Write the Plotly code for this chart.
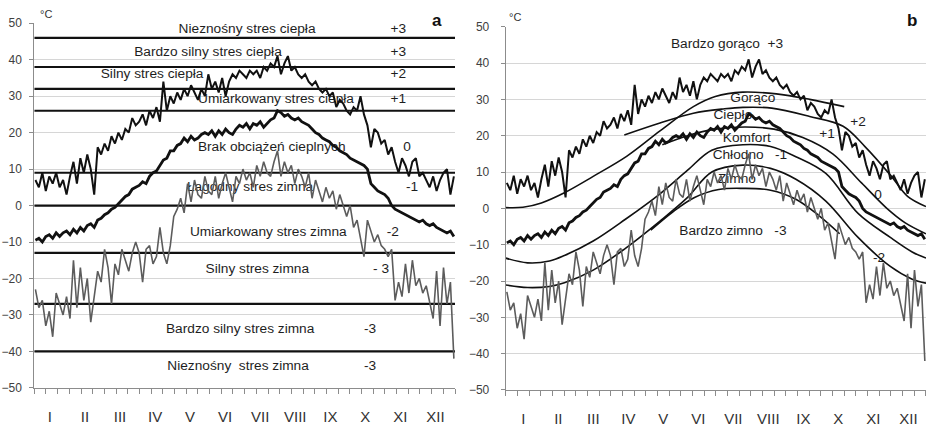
import plotly.graph_objects as go

# ---------------- data ----------------
months = ["I", "II", "III", "IV", "V", "VI", "VII", "VIII", "IX", "X", "XI", "XII"]
days = list(range(1, 366, 3))  # sampling days of the year

tmax = [7, 5, 9, 4, 8, 6, 9, 5, 7, 3,
        8, 12, 6, 13, 9, 14, 10, 3, 16, 14,
        17, 15, 19, 17, 20, 18, 21, 20, 24, 22,
        23, 25, 22, 26, 24, 27, 23, 34, 26, 30,
        28, 31, 29, 32, 30, 33, 31, 29, 32, 30,
        36, 32, 34, 31, 35, 30, 34, 36, 35, 37,
        36, 35, 37, 36, 37, 35, 38, 37, 39, 38,
        41, 36, 39, 41, 37, 38, 36, 35, 36, 34,
        33, 34, 32, 31, 32, 30, 31, 27, 29, 28,
        26, 25, 27, 26, 30, 25, 22, 16, 21, 20,
        17, 18, 14, 16, 12, 9, 13, 11, 8, 12,
        13, 8, 9, 7, 5, 8, 4, 7, 9, 10,
        3, 8]

tmean = [-9.5, -9, -10, -8.5, -8, -9, -7.5, -8.5, -7.5, -7,
         -8, -6.5, -7.5, -6, -7, -5.5, -5, -6, -4, -3.5,
         -2.5, -2, -1, -0.5, 0.5, 1.5, 2.5, 3, 4.5, 5,
         5.5, 6.5, 6, 8, 9, 9.5, 11, 12.5, 13, 15,
         15, 16.5, 17, 18.5, 17.5, 19, 18, 18.5, 19.5, 20,
         19.5, 20.5, 19, 20.5, 19.5, 21, 20, 19.5, 21, 22,
         21.5, 22.5, 21, 22.5, 22, 23, 21.5, 22.5, 23.5, 24,
         26, 25.5, 24.5, 25, 24, 23.5, 24, 23, 22.5, 22,
         21, 20, 19.5, 18.5, 18, 17.5, 16.5, 16, 15, 14.5,
         14, 13, 12.5, 12, 11.5, 11, 10, 6, 5, 4,
         3.5, 3, 2, 0, -1, -1.5, -2, -2.5, -3, -3.5,
         -4, -4.5, -4, -5, -5.5, -5, -6, -6.5, -7, -7.5,
         -7, -8.5]

tmin = [-23, -28, -26, -33, -29, -36, -24, -27, -30, -25,
        -31, -15, -28, -17, -26, -20, -32, -25, -18, -21,
        -12, -17, -27, -16, -19, -12, -15, -18, -13, -10,
        -13, -21, -12, -11, -16, -14, -6, -13, -16, -11,
        -3, -1, 2, -2, 6, 1, 7, 3, 2, 8,
        4, 3, 8, 2, 6, 9, 5, 1, 8, 6,
        10, 7, 9, 5, 11, 8, 12, 9, 8, 12,
        15, 8, 12, 9, 11, 6, 10, 8, 5, 9,
        2, 7, 4, 1, 5, 2, 4, -1, 3, 0,
        -3, 0, -6, -4, -9, -14, -4, -7, -10, -8,
        -11, -12, -14, -12, -26, -21, -25, -16, -24, -15,
        -22, -20, -24, -22, -27, -31, -18, -33, -17, -27,
        -21, -42]

# panel a: fixed thresholds
thresholds_a = [46, 38, 32, 26, 9, 0, -13, -27, -40]

# panel b: seasonal threshold curves (day of year, value)
curveP_day = [0, 15, 31, 51, 76, 105, 134, 163, 182, 206, 235, 264, 294]
curveP_val = [0.2, 0.3, 1.5, 4.3, 8.8, 14.3, 21.3, 28.0, 30.8, 32, 31.5, 30, 28]
curveQ_day = [103, 134, 163, 190, 206, 231, 264, 293, 312, 335, 349, 365]
curveQ_val = [20.2, 23.5, 26.2, 27.4, 27.8, 27.6, 25.3, 22.6, 17, 8.8, 3.3, 0.5]
curveR_day = [136, 158, 182, 208, 233, 258, 284, 309, 331, 347, 365]
curveR_val = [17.5, 20, 21.8, 22.4, 21.8, 19.5, 15, 7, 0, -4, -7]
curveS_day = [0, 19, 38, 51, 76, 104, 134, 158, 179, 206, 230, 252, 278, 306, 334, 353, 365]
curveS_val = [-13.7, -15, -14.5, -13, -9, -3, 4, 10.5, 16, 17.5, 17, 14.2, 9.6, -1.4, -8, -12, -13.7]
curveT_day = [0, 19, 38, 51, 76, 104, 134, 158, 179, 206, 230, 252, 278, 306, 334, 353, 365]
curveT_val = [-21.1, -21.8, -21.5, -20.5, -17, -11, -3.5, 3, 10, 11.9, 11, 8, 2, -8, -16, -19.5, -20.6]
curveU_day = [126, 145, 164, 185, 206, 230, 252, 272, 290]
curveU_val = [-6, -1, 3, 5.2, 5.5, 5, 2.5, -2, -7]

labels_a = ["Nieznośny stres ciepła", "+3", "Bardzo silny stres ciepła", "+3",
            "Silny stres ciepła", "+2", "Umiarkowany stres ciepła", "+1",
            "Brak obciążeń cieplnych", "0", "Łagodny stres zimna", "-1",
            "Umiarkowany stres zimna", "-2", "Silny stres zimna", "- 3",
            "Bardzo silny stres zimna", "-3", "Nieznośny  stres zimna", "-3"]
labels_b = ["Bardzo gorąco  +3", "Gorąco", "Ciepło", "Komfort", "Chłodno   -1",
            "Zimno", "+2", "+1", "0", "Bardzo zimno   -3", "-2"]

# ---------------- layout helpers ----------------
pos_a = [(184.6, 48.2), (315.8, 48.2), (150.7, 42.1), (315.8, 42.1),
         (102.2, 35.8), (315.8, 35.8), (209.7, 29.2), (315.8, 29.2),
         (206.0, 15.8), (323.4, 15.8), (187.2, 4.8), (327.8, 4.8),
         (203.0, -7.3), (311.0, -7.3), (193.5, -17.7), (300.8, -17.7),
         (178.6, -34.1), (291.3, -34.1), (176.8, -44.3), (291.3, -44.3)]
pos_b = [(192.2, 45.0), (214.6, 30.1), (197.3, 25.6), (209.4, 19.3), (212.1, 14.4),
         (200.8, 7.8), (305.9, 23.5), (279.0, 20.2), (323.3, 3.6), (197.3, -6.3),
         (324.3, -13.7)]

FONT = "Liberation Sans"
TXT = "#1e1e1e"
LBL = 13.7
fig = go.Figure()

# text first so lines pass over it
fig.add_trace(go.Scatter(x=[p[0] for p in pos_a], y=[p[1] for p in pos_a], text=labels_a,
                         mode="text", textfont=dict(family=FONT, size=LBL, color=TXT),
                         xaxis="x", yaxis="y", hoverinfo="skip", showlegend=False))
fig.add_trace(go.Scatter(x=[p[0] for p in pos_b], y=[p[1] for p in pos_b], text=labels_b,
                         mode="text", textfont=dict(family=FONT, size=LBL, color=TXT),
                         xaxis="x2", yaxis="y2", hoverinfo="skip", showlegend=False))

# panel a threshold lines
for t in thresholds_a:
    fig.add_trace(go.Scatter(x=[0, 365], y=[t, t], mode="lines",
                             line=dict(color="#111111", width=2.2),
                             xaxis="x", yaxis="y", hoverinfo="skip", showlegend=False))

# panel b curves
for cd, cv in [(curveP_day, curveP_val), (curveQ_day, curveQ_val), (curveR_day, curveR_val),
               (curveS_day, curveS_val), (curveT_day, curveT_val), (curveU_day, curveU_val)]:
    fig.add_trace(go.Scatter(x=cd, y=cv, mode="lines",
                             line=dict(color="#111111", width=1.6, shape="spline", smoothing=1.0),
                             xaxis="x2", yaxis="y2", hoverinfo="skip", showlegend=False))

# data series on both panels
for xa, ya in [("x", "y"), ("x2", "y2")]:
    fig.add_trace(go.Scatter(x=days, y=tmin, mode="lines", line=dict(color="#5c5c5c", width=1.6),
                             xaxis=xa, yaxis=ya, showlegend=False))
    fig.add_trace(go.Scatter(x=days, y=tmean, mode="lines", line=dict(color="#111111", width=2.8),
                             xaxis=xa, yaxis=ya, showlegend=False))
    fig.add_trace(go.Scatter(x=days, y=tmax, mode="lines", line=dict(color="#111111", width=2),
                             xaxis=xa, yaxis=ya, showlegend=False))

AX = "#8c8c8c"
centers_a = [13.6 + i * 30.4 for i in range(12)]
centers_b = [15.3 + i * 30.4 for i in range(12)]

def xaxis_cfg(domain, rng, anchor, centers):
    return dict(domain=domain, range=rng, autorange=False, anchor=anchor,
                tickmode="array", tickvals=centers, ticktext=months,
                ticks="", ticklabelstandoff=15, automargin=False,
                tickfont=dict(family=FONT, size=15, color="#333333"),
                showgrid=False, zeroline=False, showline=True, linecolor=AX, linewidth=1,
                minor=dict(tickmode="linear", tick0=0, dtick=365 / 36, ticks="outside",
                           ticklen=5, tickcolor=AX, showgrid=False))

def yaxis_cfg(domain, anchor, standoff):
    return dict(domain=domain, range=[-50, 50], autorange=False, anchor=anchor,
                tickmode="linear", dtick=10, tick0=0, automargin=False,
                showgrid=True, gridcolor="#d6d6d6", gridwidth=1, zeroline=False,
                showline=True, linecolor=AX, linewidth=1,
                ticks="outside", ticklen=4, tickcolor=AX, ticklabelstandoff=standoff,
                tickfont=dict(family=FONT, size=12, color="#404040"))

fig.update_layout(
    width=926, height=428, autosize=False,
    margin=dict(l=0, r=0, t=0, b=0, pad=0),
    paper_bgcolor="white", plot_bgcolor="white",
    xaxis=xaxis_cfg([0.037, 0.4914], [0, 365], "y", centers_a),
    yaxis=yaxis_cfg([0.0939, 0.9456], "x", 5),
    xaxis2=xaxis_cfg([0.5461, 1.0], [0, 365], "y2", centers_b),
    yaxis2=yaxis_cfg([0.0888, 0.9376], "x2", 9),
    annotations=[
        dict(text="°C", x=0.041, y=0.967, xref="paper", yref="paper", showarrow=False,
             xanchor="left", yanchor="middle", font=dict(family=FONT, size=11, color="#333333")),
        dict(text="°C", x=0.5475, y=0.96, xref="paper", yref="paper", showarrow=False,
             xanchor="left", yanchor="middle", font=dict(family=FONT, size=11, color="#333333")),
        dict(text="<b>a</b>", x=0.472, y=0.951, xref="paper", yref="paper", showarrow=False,
             xanchor="center", yanchor="middle", font=dict(family=FONT, size=17, color="#111111")),
        dict(text="<b>b</b>", x=0.985, y=0.951, xref="paper", yref="paper", showarrow=False,
             xanchor="center", yanchor="middle", font=dict(family=FONT, size=17, color="#111111")),
    ],
)

fig.write_html("out.html", config={"displayModeBar": False},
               post_script="document.body.style.margin='0px';document.body.style.overflow='hidden';")
